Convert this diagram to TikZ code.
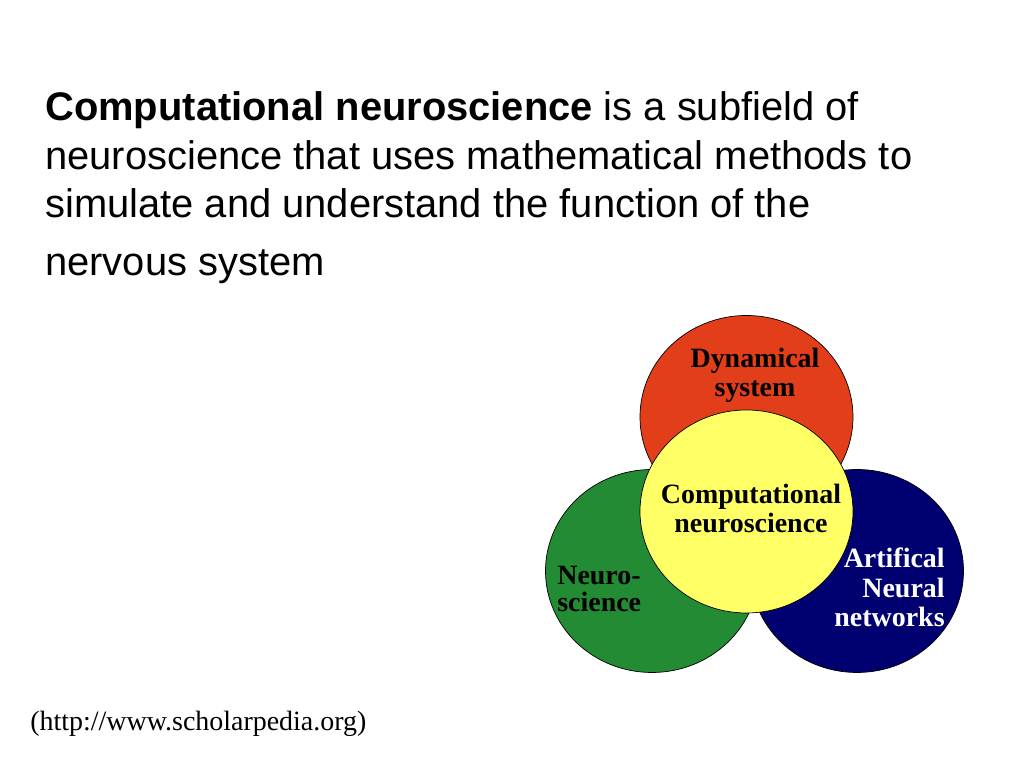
\documentclass[tikz,border=0pt]{standalone}
\usepackage{fontspec}
\setmainfont{Liberation Serif}
\newfontfamily\titlefont{Liberation Sans}

\definecolor{dynred}{RGB}{226,62,26}
\definecolor{neugreen}{RGB}{34,139,51}
\definecolor{annblue}{RGB}{0,0,112}
\definecolor{compyellow}{RGB}{255,255,102}

\begin{document}
\begin{tikzpicture}
    \useasboundingbox (0,0) rectangle (20.48,15.36);

    % 标题文字
    \node[anchor=base west, inner sep=0pt, align=left,
          font=\titlefont\fontsize{22.7}{27.4}\selectfont] (intro) at (0.9,9.84)
      {\textbf{Computational neuroscience} is a subfield of\\
       neuroscience that uses mathematical methods to\\
       simulate and understand the function of the\\[6pt]
       nervous system};

    % 画四个椭圆
    \draw[thin, fill=dynred] (14.93,7.02) ellipse (2.13 and 2.03);
    \draw[thin, fill=neugreen] (13.04,3.94) ellipse (2.13 and 2.03);
    \draw[thin, fill=annblue] (17.14,3.94) ellipse (2.13 and 2.03);
    \draw[thin, fill=compyellow] (14.93,5.13) ellipse (2.13 and 2.03);

    % 插入文字
    \node[anchor=base, inner sep=0pt, align=center,
          font=\bfseries\fontsize{15.9}{17}\selectfont] (dyn) at (15.1,7.42)
      {Dynamical\\system};
    \node[anchor=base, inner sep=0pt, align=center,
          font=\bfseries\fontsize{15.9}{17}\selectfont] (comp) at (15.02,4.7)
      {Computational\\neuroscience};
    \node[anchor=base west, inner sep=0pt, align=left,
          font=\bfseries\fontsize{15.9}{15.5}\selectfont] (neuro) at (11.14,3.12)
      {Neuro-\\science};
    \node[anchor=base east, inner sep=0pt, align=right, text=white,
          font=\bfseries\fontsize{15.9}{17}\selectfont] (ann) at (18.9,2.82)
      {Artifical\\Neural\\networks};
    \node[anchor=base west, inner sep=0pt,
          font=\fontsize{15.9}{17}\selectfont] (src) at (0.6,0.74)
      {(http://www.scholarpedia.org)};

  \end{tikzpicture}
\end{document}
